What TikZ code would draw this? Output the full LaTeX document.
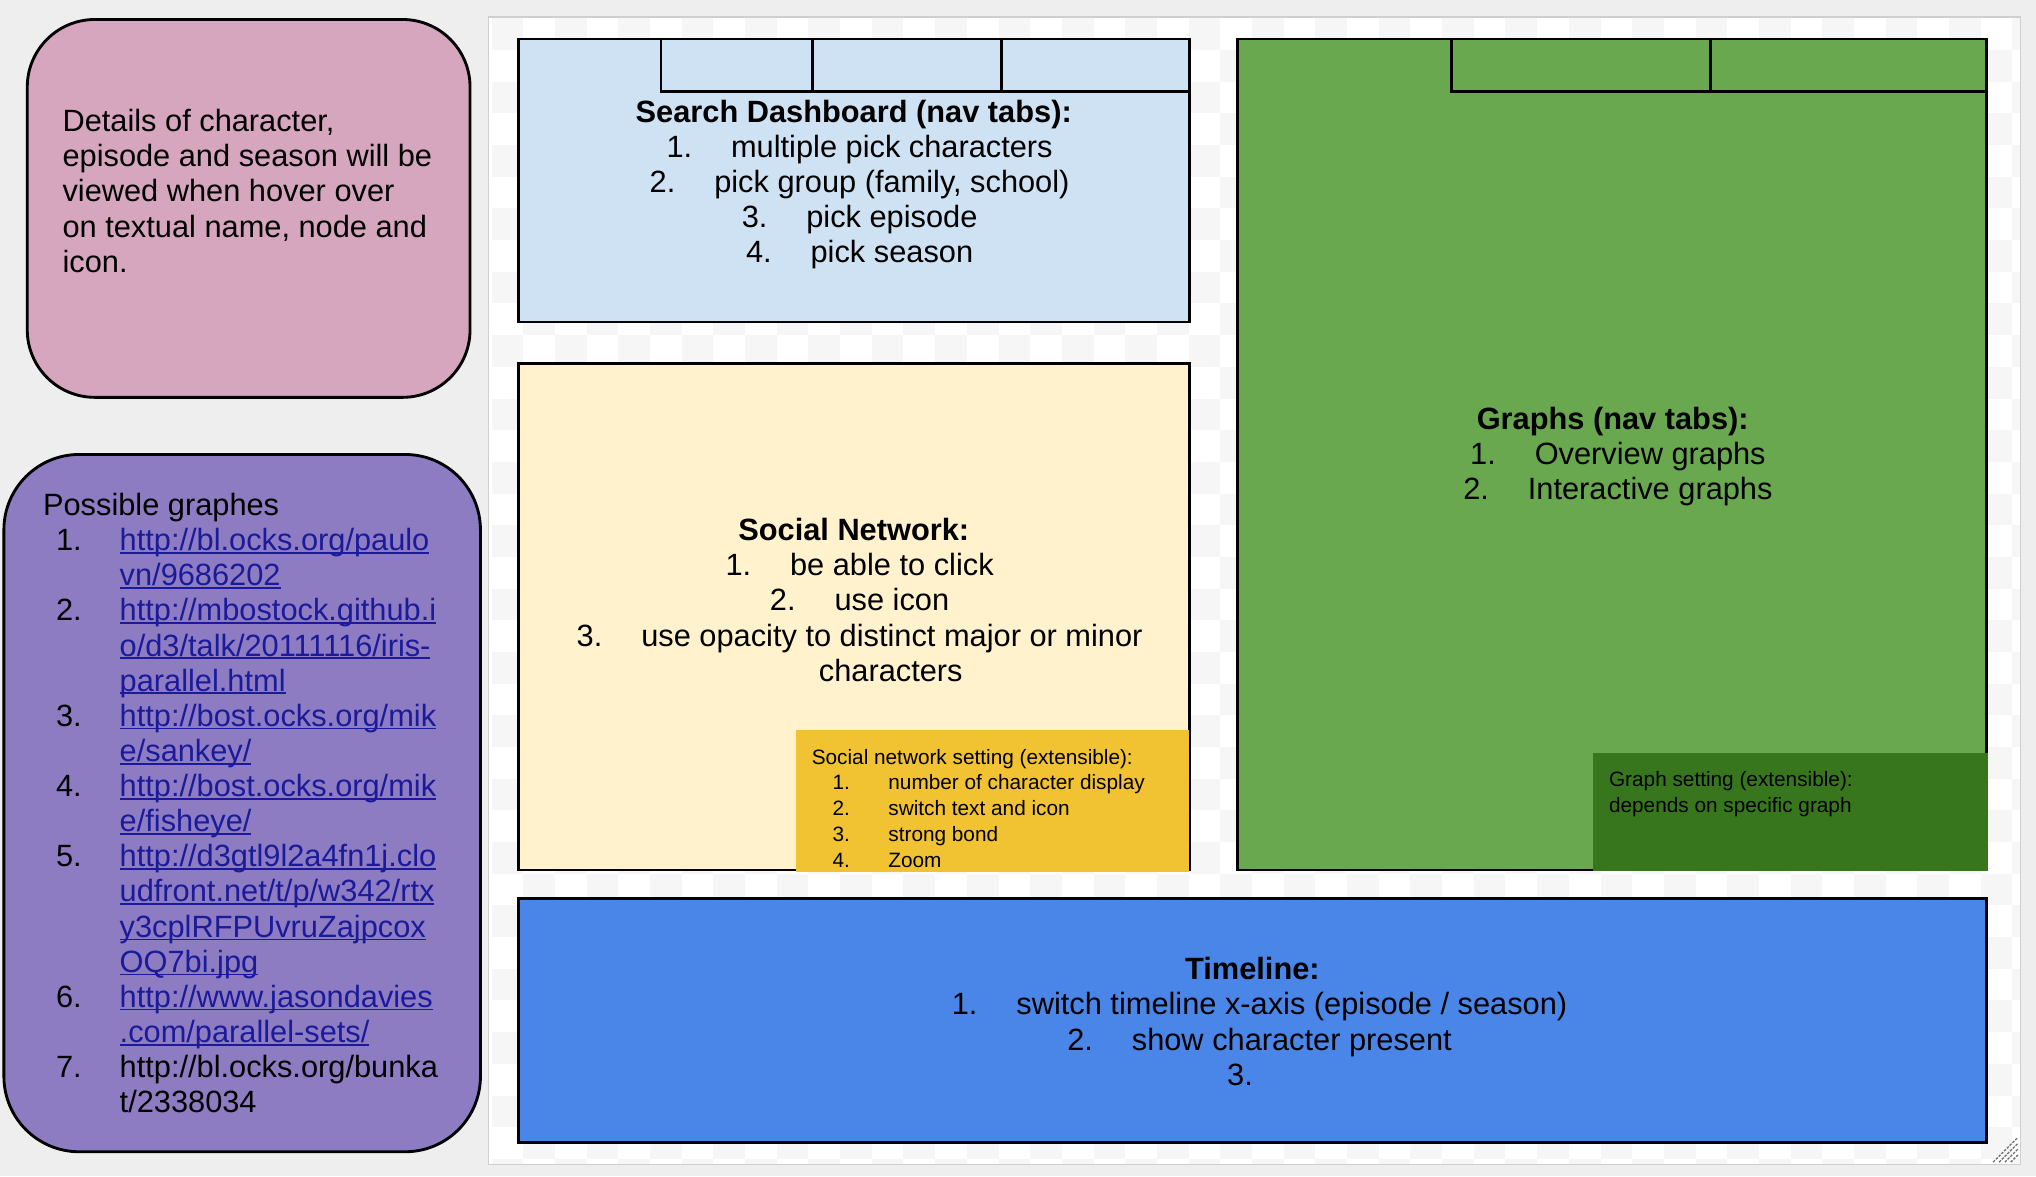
\documentclass[tikz,border=0pt]{standalone}
\usepackage{fontspec}
\setmainfont{Liberation Sans}
\definecolor{bgc}{HTML}{EEEEEE}
\definecolor{chk}{HTML}{F6F6F6}
\definecolor{cvb}{HTML}{CFCFCF}
\definecolor{pinkc}{HTML}{D5A6BD}
\definecolor{purpc}{HTML}{8E7CC3}
\definecolor{lblue}{HTML}{CFE2F3}
\definecolor{lyel}{HTML}{FFF2CC}
\definecolor{yelc}{HTML}{F1C232}
\definecolor{grnc}{HTML}{6AA84F}
\definecolor{dgrn}{HTML}{38761D}
\definecolor{bluec}{HTML}{4A86E8}
\definecolor{linkc}{HTML}{1A1A9A}
\definecolor{gripc}{HTML}{6E6E6E}
\newcommand\lnk[1]{{\color{linkc}\setbox0\hbox{#1}\rlap{\rule[-2.4pt]{\wd0}{1.3pt}}\box0}}
\tikzset{
  boxline/.style={draw=black, line width=2.2pt},
  big/.style={font=\fontsize{23.7}{27}\selectfont, inner sep=0pt, anchor=base},
  bigl/.style={big, anchor=base west},
  sml/.style={font=\fontsize{16}{20}\selectfont, inner sep=0pt, anchor=base west},
}
\begin{document}
\begin{tikzpicture}[x=1pt,y=-1pt]
\useasboundingbox (0,0) rectangle (1568,906);
\fill[bgc] (0,0) rectangle (1568,906);
% canvas
\fill[white] (376,13) rectangle (1556,897);
\begin{scope}
\clip (376,13) rectangle (1556,897);
\foreach \j in {0,...,37} {
  \pgfmathtruncatemacro\st{mod(\j,2)}
  \foreach \i in {0,2,...,50} {
    \fill[chk] ({378.6+(\i+\st)*24.4},{14.1+\j*24.4}) rectangle ++(24.4,24.4);
  }
}
\end{scope}
\draw[cvb, line width=1pt] (376,13) rectangle (1556,897);
% resize grip
\foreach \d in {0,4.5,9,13.5} {
  \draw[gripc, line width=1pt, dash pattern=on 2pt off 1pt] ({1535+\d},895) -- (1554,{876+\d});
}

% pink box
\draw[boxline, fill=pinkc, rounded corners=52pt] (21,15) rectangle (362,306);
\node[bigl] (p1) at (48,101) {Details of character,};
\node[bigl] (p2) at (48,128) {episode and season will be};
\node[bigl] (p3) at (48,155) {viewed when hover over};
\node[bigl] (p4) at (48,183) {on textual name, node and};
\node[bigl] (p5) at (48,210) {icon.};

% purple box
\draw[boxline, fill=purpc, rounded corners=58pt] (3,350) rectangle (370,887);
\node[bigl] (g0) at (33,397) {Possible graphes};
\node[bigl] (n1) at (43,424.0) {1.};
\node[bigl] (l1a) at (92,424.0) {\lnk{http://bl.ocks.org/paulo}};
\node[bigl] (l1b) at (92,451.1) {\lnk{vn/9686202}};
\node[bigl] (n2) at (43,478.1) {2.};
\node[bigl] (l2a) at (92,478.1) {\lnk{http://mbostock.github.i}};
\node[bigl] (l2b) at (92,505.2) {\lnk{o/d3/talk/20111116/iris-}};
\node[bigl] (l2c) at (92,532.2) {\lnk{parallel.html}};
\node[bigl] (n3) at (43,559.3) {3.};
\node[bigl] (l3a) at (92,559.3) {\lnk{http://bost.ocks.org/mik}};
\node[bigl] (l3b) at (92,586.4) {\lnk{e/sankey/}};
\node[bigl] (n4) at (43,613.4) {4.};
\node[bigl] (l4a) at (92,613.4) {\lnk{http://bost.ocks.org/mik}};
\node[bigl] (l4b) at (92,640.5) {\lnk{e/fisheye/}};
\node[bigl] (n5) at (43,667.5) {5.};
\node[bigl] (l5a) at (92,667.5) {\lnk{http://d3gtl9l2a4fn1j.clo}};
\node[bigl] (l5b) at (92,694.6) {\lnk{udfront.net/t/p/w342/rtx}};
\node[bigl] (l5c) at (92,721.7) {\lnk{y3cplRFPUvruZajpcox}};
\node[bigl] (l5d) at (92,748.7) {\lnk{OQ7bi.jpg}};
\node[bigl] (n6) at (43,775.8) {6.};
\node[bigl] (l6a) at (92,775.8) {\lnk{http://www.jasondavies}};
\node[bigl] (l6b) at (92,802.8) {\lnk{.com/parallel-sets/}};
\node[bigl] (n7) at (43,829.9) {7.};
\node[bigl] (l7a) at (92,829.9) {http://bl.ocks.org/bunka};
\node[bigl] (l7b) at (92,857.0) {t/2338034};

% search dashboard
\draw[boxline, fill=lblue] (399,30) rectangle (916,248);
\draw[boxline] (509,30) rectangle (916,70.5);
\draw[boxline] (626,30) -- (626,70.5);
\draw[boxline] (771,30) -- (771,70.5);
\node[big, font=\fontsize{23.7}{27}\selectfont\bfseries] (s0) at (657.5,94) {Search Dashboard (nav tabs):};
\node[big] (s1) at (662,121) {1.\hspace{30pt}multiple pick characters};
\node[big] (s2) at (662,148) {2.\hspace{30pt}pick group (family, school)};
\node[big] (s3) at (662,175) {3.\hspace{30pt}pick episode};
\node[big] (s4) at (662,202) {4.\hspace{30pt}pick season};

% social network
\draw[boxline, fill=lyel] (399,280) rectangle (916,670);
\node[big, font=\fontsize{23.7}{27}\selectfont\bfseries] (sn0) at (657.5,416) {Social Network:};
\node[big] (sn1) at (662,443) {1.\hspace{30pt}be able to click};
\node[big] (sn2) at (662,470) {2.\hspace{30pt}use icon};
\node[big] (sn3) at (662,498) {3.\hspace{30pt}use opacity to distinct major or minor};
\node[big] (sn4) at (686,525) {characters};
\fill[yelc] (613,562.5) rectangle (915.5,671.2);
\node[sml] (y0) at (625,589) {Social network setting (extensible):};
\node[sml] (yn1) at (641,608) {1.};
\node[sml] (y1) at (684,608) {number of character display};
\node[sml] (yn2) at (641,628) {2.};
\node[sml] (y2) at (684,628) {switch text and icon};
\node[sml] (yn3) at (641,648) {3.};
\node[sml] (y3) at (684,648) {strong bond};
\node[sml] (yn4) at (641,668) {4.};
\node[sml] (y4) at (684,668) {Zoom};

% graphs
\draw[boxline, fill=grnc] (953,30) rectangle (1530,670);
\draw[boxline] (1118,30) rectangle (1530,70.5);
\draw[boxline] (1317,30) -- (1317,70.5);
\node[big, font=\fontsize{23.7}{27}\selectfont\bfseries] (gr0) at (1242,331) {Graphs (nav tabs):};
\node[big] (gr1) at (1246,358) {1.\hspace{30pt}Overview graphs};
\node[big] (gr2) at (1246,385) {2.\hspace{30pt}Interactive graphs};
\fill[dgrn] (1227,580) rectangle (1531.1,671.1);
\node[sml] (dg1) at (1239,606) {Graph setting (extensible):};
\node[sml] (dg2) at (1239,626) {depends on specific graph};

% timeline
\draw[boxline, fill=bluec] (399,692) rectangle (1530,880);
\node[big, font=\fontsize{23.7}{27}\selectfont\bfseries] (t0) at (964.5,754) {Timeline:};
\node[big] (t1) at (970,781) {1.\hspace{30pt}switch timeline x-axis (episode / season)};
\node[big] (t2) at (970,809) {2.\hspace{30pt}show character present};
\node[big] (t3) at (970,836) {3.\hspace*{30pt}\mbox{}};
\end{tikzpicture}
\end{document}
